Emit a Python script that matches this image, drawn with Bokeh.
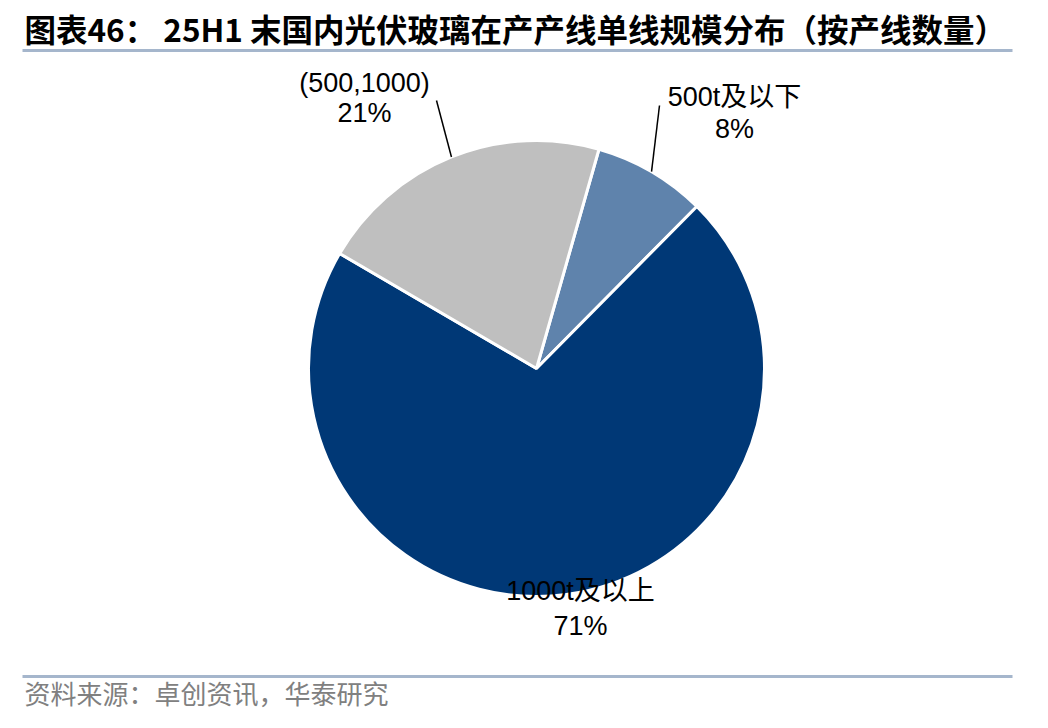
import math
from bokeh.plotting import figure
from bokeh.models import Range1d, ColumnDataSource
from bokeh.core.properties import value
from bokeh.embed import file_html
from bokeh.resources import INLINE

# ---- data ----
categories = ["500t及以下", "1000t及以上", "(500,1000)"]
shares = [8, 71, 21]
colors = ["#5F83AC", "#003876", "#BFBFBF"]
title_text = "图表46：  25H1 末国内光伏玻璃在产产线单线规模分布（按产线数量）"
source_text = "资料来源：卓创资讯，华泰研究"

W, H = 1032, 712
def py(y_page):  # screen pixel y -> data y
    return H - y_page
def px(x_page):
    return x_page

p = figure(width=W, height=H, x_range=Range1d(0, W), y_range=Range1d(0, H),
           output_backend="svg", toolbar_location=None, min_border=0)
p.axis.visible = False
p.grid.visible = False
p.outline_line_color = None
p.background_fill_color = "white"

# pie geometry (layout)
cx, cy, r = px(536), py(368), 228
start_deg = 74.1  # first slice starts ~16 deg clockwise from 12 o'clock

total = sum(shares)
starts, ends, mids = [], [], []
a = start_deg
for s in shares:
    span = 360.0 * s / total
    starts.append(math.radians(a))
    ends.append(math.radians(a - span))
    mids.append(a - span / 2)
    a -= span

src = ColumnDataSource(dict(x=[cx]*3, y=[cy]*3, start=starts, end=ends, color=colors))
p.wedge(x="x", y="y", radius=r, start_angle="start", end_angle="end", direction="clock",
        fill_color="color", line_color="white", line_width=3, source=src)

# labels (layout positions for each category's label, screen coords)
label_pos = {"500t及以下": (734, 96, 128), "1000t及以上": (580, 590, 625), "(500,1000)": (364, 82, 112)}
leader_end = {"500t及以下": (659, 105), "(500,1000)": (436, 100)}
font = value("Liberation Sans, Noto Sans CJK SC")
for cat, s, m in zip(categories, shares, mids):
    lx, ly1, ly2 = label_pos[cat]
    p.text(x=[px(lx), px(lx)], y=[py(ly1), py(ly2)], text=[cat, f"{s}%"],
           text_font=font, text_font_size="27px", text_color="black",
           text_align="center", text_baseline="middle")
    if cat in leader_end:
        ex, ey = leader_end[cat]
        sx = cx + r * math.cos(math.radians(m))
        sy = cy + r * math.sin(math.radians(m))
        p.line(x=[sx, px(ex)], y=[sy, py(ey)], line_color="black", line_width=1.5)

# title & source
p.text(x=[px(24)], y=[py(27)], text=[title_text], text_font=value("Noto Sans CJK SC"),
       text_font_style="bold", text_font_size="31.5px", text_color="black",
       text_align="left", text_baseline="middle")
p.line(x=[px(22), px(1012)], y=[py(50), py(50)], line_color="#A5B6CC", line_width=3)
p.line(x=[px(22), px(1012)], y=[py(676), py(676)], line_color="#A5B6CC", line_width=3)
p.text(x=[px(24)], y=[py(710)], text=[source_text], text_font=value("Noto Sans CJK SC"),
       text_font_size="26px", text_color="#808080", text_align="left", text_baseline="bottom")

open("out.html", "w").write(file_html(p, INLINE))
